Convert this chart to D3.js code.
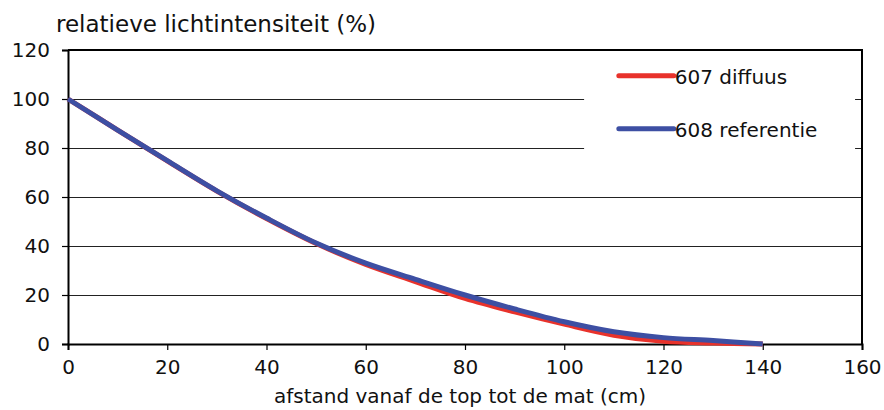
<!DOCTYPE html>
<html>
<head>
<meta charset="utf-8">
<script src="https://cdn.jsdelivr.net/npm/d3@7"></script>
<style>
  body { margin: 0; background: #fff; }
  svg text { font-family: "DejaVu Sans", sans-serif; fill: #111; }
</style>
</head>
<body>
<div class="chart"></div>
<script>
// Chart data
var afstand = [0, 10, 20, 30, 40, 50, 60, 70, 80, 90, 100, 110, 120, 130, 140];
var diffuus607 = [100, 87.3, 74.7, 62.4, 51.2, 41, 32.5, 25.5, 18.6, 13.1, 8.1, 3.6, 1.1, 0.4, 0];
var referentie608 = [100, 87.3, 74.8, 62.5, 51.4, 41.2, 33, 26.4, 20, 14.3, 9.1, 5, 2.6, 1.4, 0];
var xTicks = [0, 20, 40, 60, 80, 100, 120, 140, 160];
var yTicks = [0, 20, 40, 60, 80, 100, 120];
var seriesNames = ["607 diffuus", "608 referentie"];
var seriesColors = ["#e8322b", "#3d4fa3"];

var svgWidth = 884;
var svgHeight = 410;
var margin = {top: 50, right: 22, bottom: 66, left: 68};
var width = svgWidth - margin.left - margin.right;
var height = svgHeight - margin.top - margin.bottom;

var svg = d3.select(".chart")
  .append("svg")
  .attr("width", svgWidth)
  .attr("height", svgHeight);

var chart = svg.append("g")
  .attr("transform", "translate(" + margin.left + "," + margin.top + ")");

var x = d3.scaleLinear().domain([0, 160]).range([0, width]);
var y = d3.scaleLinear().domain([0, 120]).range([height, 0]);

// gridlines
chart.append("g")
  .selectAll("line")
  .data(yTicks.filter(function(d) { return d > 0 && d < 120; }))
  .enter()
  .append("line")
  .attr("x1", 0)
  .attr("x2", width)
  .attr("y1", function(d) { return Math.round(y(d)) + 0.5; })
  .attr("y2", function(d) { return Math.round(y(d)) + 0.5; })
  .attr("stroke", "#222")
  .attr("stroke-width", 1.2);

// top and right border
chart.append("path")
  .attr("d", "M0," + y(120) + "H" + width + "V" + height)
  .attr("fill", "none")
  .attr("stroke", "#000")
  .attr("stroke-width", 2);

// legend background hides part of the gridlines
chart.append("rect")
  .attr("x", x(104))
  .attr("y", y(118))
  .attr("width", x(158.6) - x(104))
  .attr("height", y(70) - y(118))
  .attr("fill", "#fff");

// axes
var bottomAxis = d3.axisBottom(x).tickValues(xTicks).tickSize(6).tickPadding(10);
var leftAxis = d3.axisLeft(y).tickValues(yTicks).tickSize(6).tickPadding(12);

var gx = chart.append("g")
  .attr("transform", "translate(0," + height + ")")
  .call(bottomAxis);
var gy = chart.append("g").call(leftAxis);

[gx, gy].forEach(function(g) {
  g.select(".domain").attr("stroke", "#000").attr("stroke-width", 2);
  g.selectAll(".tick line").attr("stroke", "#000").attr("stroke-width", 1.2);
  g.selectAll(".tick text")
    .style("font-family", "DejaVu Sans, sans-serif")
    .style("font-size", "20px")
    .attr("fill", "#111");
});

// lines
var line = d3.line()
  .x(function(d) { return x(d[0]); })
  .y(function(d) { return y(d[1]); })
  .curve(d3.curveCatmullRom.alpha(0.5));

[diffuus607, referentie608].forEach(function(vals, i) {
  chart.append("path")
    .datum(afstand.map(function(a, j) { return [a, vals[j]]; }))
    .attr("d", line)
    .attr("fill", "none")
    .attr("stroke", seriesColors[i])
    .attr("stroke-width", 5)
    .attr("stroke-linejoin", "round");
});

// legend
var legend = chart.append("g")
  .attr("transform", "translate(" + x(111) + "," + y(109.5) + ")");

seriesNames.forEach(function(name, i) {
  var row = legend.append("g").attr("transform", "translate(0," + (i * 53) + ")");
  row.append("line")
    .attr("x1", 0).attr("x2", 55)
    .attr("stroke", seriesColors[i])
    .attr("stroke-width", 5)
    .attr("stroke-linecap", "round");
  row.append("text")
    .attr("x", 56)
    .attr("y", 8)
    .style("font-size", "20px")
    .text(name);
});

// titles
svg.append("text")
  .attr("x", 56)
  .attr("y", 32)
  .style("font-size", "23px")
  .text("relatieve lichtintensiteit (%)");

svg.append("text")
  .attr("x", margin.left + x(79))
  .attr("y", 403)
  .style("text-anchor", "middle")
  .style("font-size", "20px")
  .text("afstand vanaf de top tot de mat (cm)");
</script>
</body>
</html>
